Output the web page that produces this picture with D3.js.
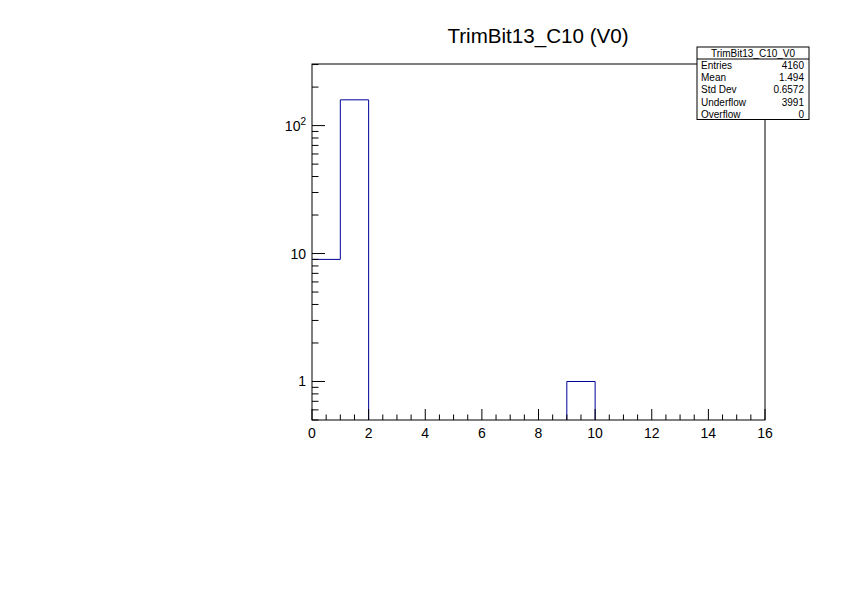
<!DOCTYPE html>
<html><head><meta charset="utf-8">
<script src="https://cdn.jsdelivr.net/npm/d3@7"></script>
<style>body{margin:0;background:#fff}svg{display:block}text{font-family:"Liberation Sans",Arial,sans-serif}</style>
</head><body>
<script>
const binEdges = [0,1,2,3,4,5,6,7,8,9,10,11,12,13,14,15,16];
const binCounts = [9,159,0,0,0,0,0,0,0,1,0,0,0,0,0,0];
const xTicks = [0,2,4,6,8,10,12,14,16];
const yTicks = [1,10,100];
const statsLabels = ["Entries","Mean","Std Dev","Underflow","Overflow"];
const statsValues = ["4160","1.494","0.6572","3991","0"];
const title = "TrimBit13_C10 (V0)";
const statsTitle = "TrimBit13_C10_V0";

const W=842,H=595;
const svg=d3.select("body").append("svg").attr("width",W).attr("height",H);
const L=312,R=765,T=64,B=420;
const x=d3.scaleLinear().domain([0,16]).range([L,R]);
const y=d3.scaleLog().domain([0.5,303]).range([B,T]);

svg.append("defs").append("clipPath").attr("id","c").append("rect")
  .attr("x",L).attr("y",T).attr("width",R-L).attr("height",B-T);

let pts=[];
const yv=v=> v>0? y(v) : B+50;
for(let i=0;i<binCounts.length;i++){
  pts.push([x(binEdges[i]),yv(binCounts[i])]);
  pts.push([x(binEdges[i+1]),yv(binCounts[i])]);
}
svg.append("path").attr("clip-path","url(#c)")
  .attr("d",d3.line()(pts)).attr("fill","none").attr("stroke","#000099").attr("stroke-width",1);

svg.append("rect").attr("x",L).attr("y",T).attr("width",R-L).attr("height",B-T)
  .attr("fill","none").attr("stroke","#000").attr("stroke-width",1);

const g=svg.append("g").attr("stroke","#000").attr("stroke-width",1);
for(let v=0;v<=16;v+=0.5){
  const major = v%2===0;
  const len = major?11:5.5;
  g.append("line").attr("x1",x(v)).attr("x2",x(v)).attr("y1",B).attr("y2",B-len);
}
svg.selectAll(".xl").data(xTicks).enter().append("text")
  .attr("x",d=>x(d)).attr("y",B+18).attr("text-anchor","middle").attr("font-size",14).text(d=>d);

const minor=[];
for(let d of [0.1,1,10,100]) for(let k=1;k<=9;k++){const v=d*k; if(v>=0.5&&v<=303) minor.push(v);}
minor.forEach(v=>{
  const major = yTicks.includes(Math.round(v*1000)/1000);
  const len = major?13:6.5;
  g.append("line").attr("x1",L).attr("x2",L+len).attr("y1",y(v)).attr("y2",y(v));
});
const yl=svg.append("g");
yl.append("text").attr("x",L-6).attr("y",y(1)+5).attr("text-anchor","end").attr("font-size",14).text("1");
yl.append("text").attr("x",L-6).attr("y",y(10)+5).attr("text-anchor","end").attr("font-size",14).text("10");
const t2=yl.append("text").attr("x",L-6).attr("y",y(100)+5).attr("text-anchor","end").attr("font-size",14);
t2.append("tspan").text("10");
t2.append("tspan").attr("font-size",10).attr("dy",-6).text("2");

svg.append("text").attr("x",538).attr("y",43).attr("text-anchor","middle").attr("font-size",20.6).text(title);

const sx=697,sy=47,sw=112,sh=72.5;
svg.append("rect").attr("x",sx).attr("y",sy).attr("width",sw).attr("height",sh).attr("fill","#fff").attr("stroke","#000");
svg.append("line").attr("x1",sx).attr("x2",sx+sw).attr("y1",59).attr("y2",59).attr("stroke","#000");
svg.append("text").attr("x",sx+sw/2).attr("y",57).attr("text-anchor","middle").attr("font-size",10).text(statsTitle);
statsLabels.forEach((l,i)=>{
  const yy=69+i*12.2;
  svg.append("text").attr("x",sx+4).attr("y",yy).attr("font-size",10).text(l);
  svg.append("text").attr("x",sx+sw-5).attr("y",yy).attr("text-anchor","end").attr("font-size",10).text(statsValues[i]);
});
</script>
</body></html>
